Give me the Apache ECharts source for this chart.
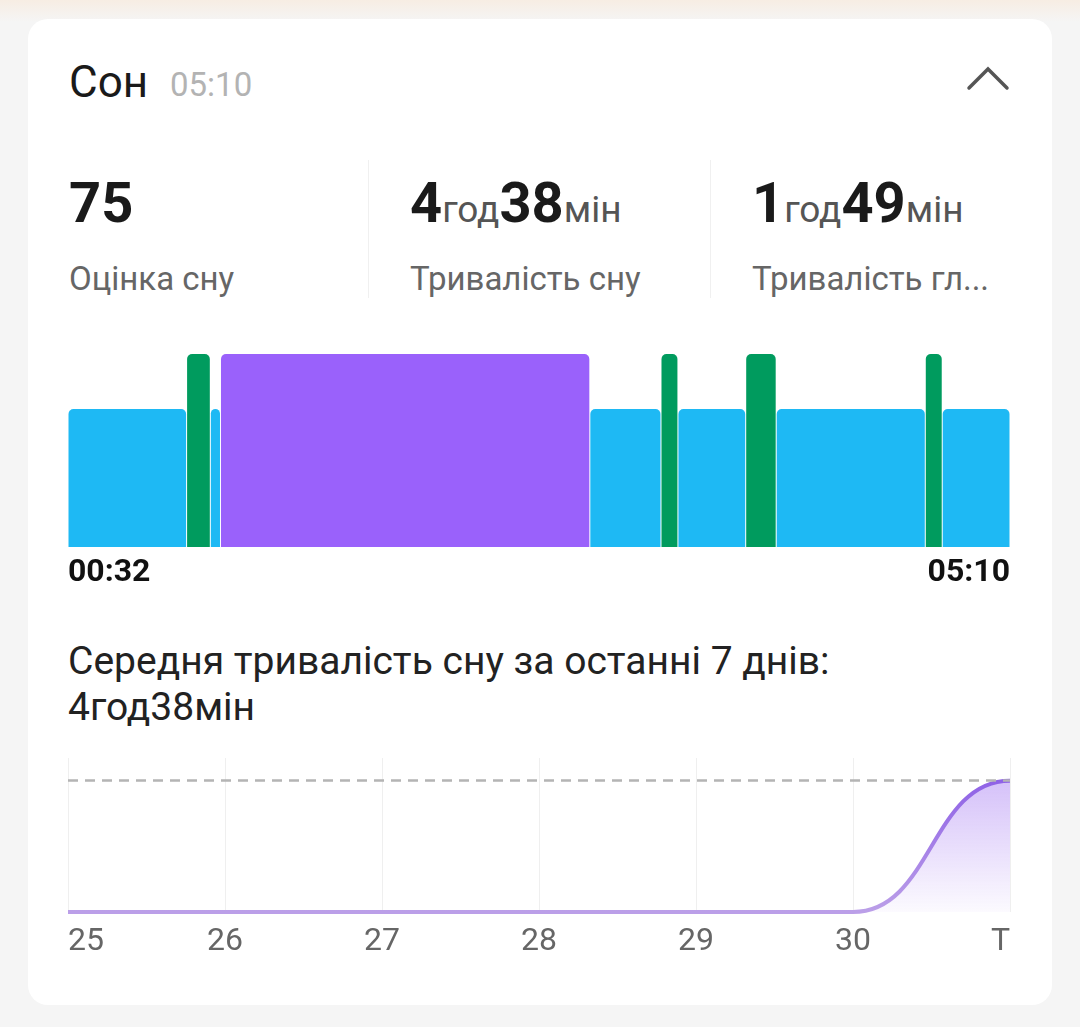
<!DOCTYPE html>
<html>
<head>
<meta charset="utf-8">
<script src="https://cdn.jsdelivr.net/npm/echarts@6/dist/echarts.min.js"></script>
<style>
html,body{margin:0;padding:0;width:1080px;height:1027px;overflow:hidden;background:#f5f5f5;font-family:Roboto,"Noto Sans",sans-serif}
#topbar{position:absolute;left:0;top:0;width:1080px;height:22px;background:linear-gradient(#f7ede3,#f5f5f5)}
#card{position:absolute;left:28px;top:19px;width:1024px;height:986px;background:#fff;border-radius:20px}
.t{position:absolute;white-space:nowrap;line-height:1}
.t span{line-height:1}
.num{font-weight:bold;color:#1a1a1a}
.unit{color:#555;font-size:37px}
.lbl{font-size:33px;color:#666}
.div{position:absolute;top:160px;width:1px;height:138px;background:#f0f0f0}
#chart{position:absolute;left:0;top:0;width:1080px;height:1027px}
</style>
</head>
<body>
<div id="topbar"></div>
<div id="card"></div>
<div class="t" style="left:69px;top:60px;font-size:44px;color:#1a1a1a">Сон</div>
<div class="t" style="left:170px;top:68px;font-size:33px;color:#b3b3b3">05:10</div>
<svg style="position:absolute;left:960px;top:60px" width="56" height="40">
  <polyline points="9,28 28,9 47,28" fill="none" stroke="#555" stroke-width="3.5" stroke-linecap="round" stroke-linejoin="miter"/>
</svg>

<div class="t" style="left:69px;top:175px;font-size:56px"><span class="num">75</span></div>
<div class="t" style="left:410px;top:175px;font-size:56px"><span class="num">4</span><span class="unit">год</span><span class="num">38</span><span class="unit">мін</span></div>
<div class="t" style="left:752px;top:175px;font-size:56px"><span class="num">1</span><span class="unit">год</span><span class="num">49</span><span class="unit">мін</span></div>
<div class="t lbl" style="left:69px;top:262px">Оцінка сну</div>
<div class="t lbl" style="left:410px;top:262px">Тривалість сну</div>
<div class="t lbl" style="left:752px;top:262px">Тривалість гл...</div>
<div class="div" style="left:368px"></div>
<div class="div" style="left:710px"></div>

<div class="t" style="left:68px;top:642px;font-size:39px;color:#222">Середня тривалість сну за останні 7 днів:</div>
<div class="t" style="left:68px;top:688px;font-size:39px;color:#222">4год38мін</div>

<div id="chart"></div>
<script>
// ---- Sleep stage timeline (minutes after start 00:32) ----
const startClock = [0, 32];          // 00:32
const totalMinutes = 278;            // until 05:10
const segStart = [0, 35, 42, 45, 154, 175, 180, 200, 209, 253, 258];
const segEnd   = [35, 42, 45, 154, 175, 180, 200, 209, 253, 258, 278];
const segStage = ['light','rem','light','deep','light','rem','light','rem','light','rem','light'];
const stageLevel = {light: 0.715, rem: 1, deep: 1};
const stageColor = {light: '#1eb9f4', rem: '#009b5e', deep: '#9a61fb'};

// ---- 7-day sleep duration (minutes) ----
const days = ['25', '26', '27', '28', '29', '30', 'Т'];
const sleepMinutes = [0, 0, 0, 0, 0, 0, 278];
const avgMinutes = 278;

function toClock(m) {
  const t = startClock[0] * 60 + startClock[1] + m;
  const h = Math.floor(t / 60) % 24, mm = t % 60;
  return (h < 10 ? '0' : '') + h + ':' + (mm < 10 ? '0' : '') + mm;
}

const segData = segStart.map((s, i) => ({
  value: [s, segEnd[i], stageLevel[segStage[i]]],
  itemStyle: {color: stageColor[segStage[i]]}
}));

const maxSleep = Math.max.apply(null, sleepMinutes);

const chart = echarts.init(document.getElementById('chart'), null, {renderer: 'canvas'});
chart.setOption({
  backgroundColor: 'transparent',
  animation: false,
  grid: [
    {left: 68, right: 70, top: 354, height: 193},
    {left: 68, right: 70, top: 758, height: 154}
  ],
  xAxis: [
    {
      gridIndex: 0, type: 'value', min: 0, max: totalMinutes, interval: totalMinutes,
      axisLine: {show: false}, axisTick: {show: false}, splitLine: {show: false},
      axisLabel: {
        formatter: v => toClock(v), fontSize: 32, fontWeight: 'bold', color: '#111',
        fontFamily: 'Roboto', margin: 10, alignMinLabel: 'left', alignMaxLabel: 'right'
      }
    },
    {
      gridIndex: 1, type: 'category', data: days, boundaryGap: false,
      axisLine: {show: false}, axisTick: {show: false},
      splitLine: {show: true, lineStyle: {color: '#efefef', width: 1}},
      axisLabel: {
        fontSize: 32, color: '#666', fontFamily: 'Roboto', margin: 14,
        alignMinLabel: 'left', alignMaxLabel: 'right', interval: 0
      }
    }
  ],
  yAxis: [
    {gridIndex: 0, type: 'value', min: 0, max: 1, show: false},
    {gridIndex: 1, type: 'value', min: 0, max: 326, show: false}
  ],
  series: [
    {
      type: 'custom', xAxisIndex: 0, yAxisIndex: 0,
      data: segData,
      renderItem: function (params, api) {
        const p0 = api.coord([api.value(0), api.value(2)]);
        const p1 = api.coord([api.value(1), 0]);
        return {
          type: 'rect',
          shape: {x: p0[0] + 0.5, y: p0[1], width: p1[0] - p0[0] - 1, height: p1[1] - p0[1], r: [5, 5, 0, 0]},
          style: {fill: api.visual('color')}
        };
      }
    },
    {
      // smooth S-shaped curve between consecutive days (flat tangent at every day)
      type: 'custom', xAxisIndex: 1, yAxisIndex: 1,
      data: sleepMinutes.map((v, i) => [i, v, i + 1 < sleepMinutes.length ? sleepMinutes[i + 1] : v]),
      clip: false,
      renderItem: function (params, api) {
        const i = api.value(0);
        if (i >= sleepMinutes.length - 1) return null;
        const a = api.coord([i, api.value(1)]);
        const b = api.coord([i + 1, api.value(2)]);
        const base = api.coord([i, 0])[1];
        const top = api.coord([0, maxSleep])[1];
        const cx = (a[0] + b[0]) / 2;
        const curve = 'M' + a[0] + ' ' + a[1] + ' C' + cx + ' ' + a[1] + ' ' + cx + ' ' + b[1] + ' ' + b[0] + ' ' + b[1];
        const area = curve + ' L' + b[0] + ' ' + base + ' L' + a[0] + ' ' + base + ' Z';
        const lineGrad = new echarts.graphic.LinearGradient(0, top, 0, base, [
          {offset: 0, color: '#8f62e6'}, {offset: 1, color: '#bb9fe8'}
        ], true);
        const areaGrad = new echarts.graphic.LinearGradient(0, top, 0, base, [
          {offset: 0, color: 'rgba(150,100,240,0.40)'}, {offset: 1, color: 'rgba(150,100,240,0.03)'}
        ], true);
        return {
          type: 'group',
          children: [
            {type: 'path', shape: {pathData: area}, style: {fill: areaGrad, stroke: null}},
            {type: 'path', shape: {pathData: curve}, style: {fill: null, stroke: lineGrad, lineWidth: 4}}
          ]
        };
      },
      markLine: {
        silent: true, symbol: 'none', label: {show: false},
        lineStyle: {type: [10, 7], color: '#b4b4b4', width: 2.5},
        data: [{yAxis: avgMinutes}]
      }
    }
  ]
});
</script>
</body>
</html>
